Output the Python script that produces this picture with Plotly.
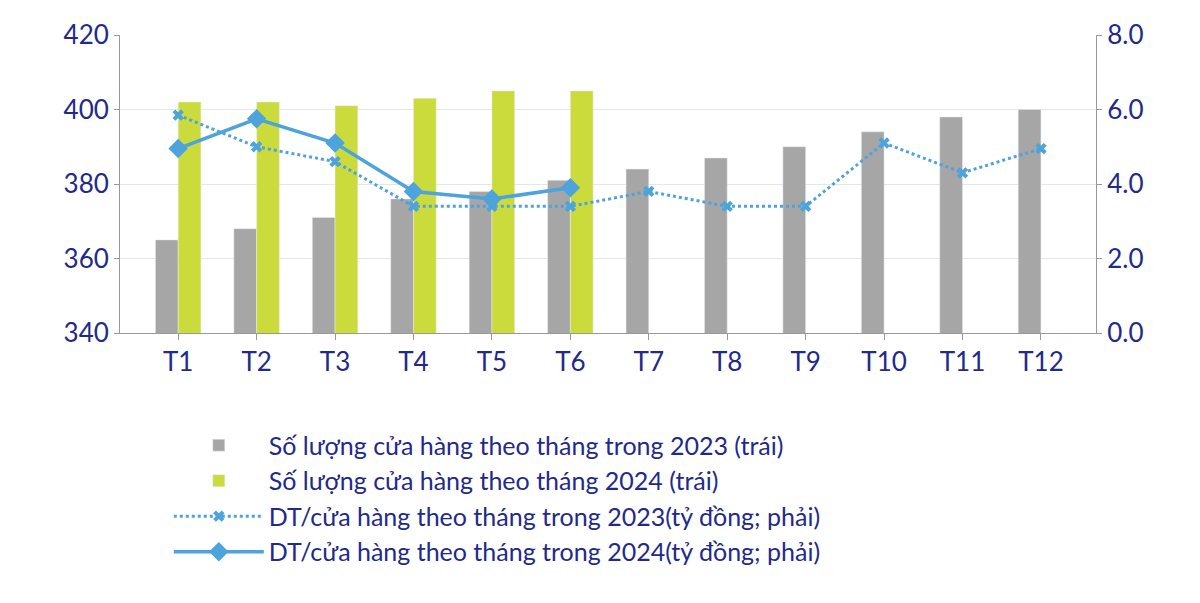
import plotly.graph_objects as go

months = ["T1","T2","T3","T4","T5","T6","T7","T8","T9","T10","T11","T12"]
stores_2023 = [365, 368, 371, 376, 378, 381, 384, 387, 390, 394, 398, 400]
stores_2024 = [402, 402, 401, 403, 405, 405]
rev_2023 = [5.85, 5.0, 4.6, 3.4, 3.4, 3.4, 3.8, 3.4, 3.4, 5.1, 4.3, 4.95]
rev_2024 = [4.95, 5.75, 5.1, 3.8, 3.6, 3.9]

navy = "#1f2a8a"
blue = "#4da3dc"
fig = go.Figure()
fig.add_bar(x=months, y=stores_2023, name="Số lượng cửa hàng theo tháng trong 2023 (trái)",
            marker_color="#a6a6a6")
fig.add_bar(x=months[:6], y=stores_2024, name="Số lượng cửa hàng theo tháng 2024 (trái)",
            marker_color="#cbdb3c")
fig.add_scatter(x=months, y=rev_2023, yaxis="y2", mode="lines+markers",
                name="DT/cửa hàng theo tháng trong 2023(tỷ đồng; phải)",
                line=dict(color=blue, width=3, dash="dot"),
                marker=dict(symbol="x", size=10, color=blue))
fig.add_scatter(x=months[:6], y=rev_2024, yaxis="y2", mode="lines+markers",
                name="DT/cửa hàng theo tháng trong 2024(tỷ đồng; phải)",
                line=dict(color=blue, width=3.5),
                marker=dict(symbol="diamond", size=15, color=blue))

fig.update_layout(
    width=1200, height=603, plot_bgcolor="white", paper_bgcolor="white",
    margin=dict(l=112, r=112, t=27, b=278),
    barmode="group", bargap=0.42, bargroupgap=0,
    font=dict(family="Lato", color=navy, size=24),
    xaxis=dict(showline=True, linecolor="#999", tickfont=dict(size=26), ticks="outside",
               ticklen=6, tickcolor="#999", automargin=False),
    yaxis=dict(range=[340, 420], dtick=20, showgrid=True, gridcolor="#e6e6e6",
               showline=True, linecolor="#999", ticks="outside", tickcolor="#999",
               tickfont=dict(size=26), zeroline=False, automargin=False),
    yaxis2=dict(range=[0, 8], dtick=2, tickformat=".1f", overlaying="y", side="right",
                showgrid=False, showline=True, linecolor="#999", ticks="outside",
                tickcolor="#999", tickfont=dict(size=26), zeroline=False, automargin=False),
    legend=dict(orientation="v", x=0.05, xanchor="left", y=-0.3, yanchor="top",
                font=dict(size=25, color=navy), traceorder="normal", itemwidth=90),
)
fig.write_html("out.html")
